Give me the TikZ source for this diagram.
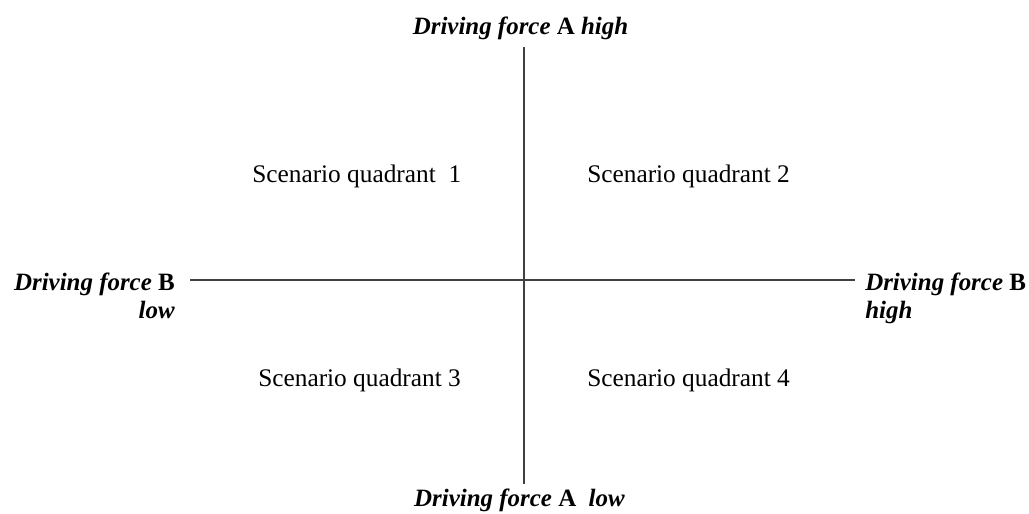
\documentclass[tikz,border=0pt]{standalone}
\usepackage{fontspec}
\setmainfont{Liberation Serif}
\usetikzlibrary{positioning}

\begin{document}
\begin{tikzpicture}[
  x=0.75pt, y=-0.75pt,
  axis/.style={draw=black!75, line width=1pt},
  force/.style={font=\fontsize{18.7}{21}\selectfont\bfseries\itshape, inner sep=0pt},
  quad/.style={font=\fontsize{19}{22}\selectfont, inner sep=0pt, anchor=base west},
]
\useasboundingbox (0,0) rectangle (1029,514);

% axis labels
\node[force, anchor=base] (ahigh) at (520.5,35) {Driving force \textup{A} high};
\node[force, anchor=base] (alow) at (519.5,506) {Driving force \textup{A}\ \ low};
\node[force, anchor=north east, align=right] (blow) at (175,272.5)
     {Driving force \textup{B}\\low};
\node[force, anchor=north west, align=left] (bhigh) at (865,272.5)
     {Driving force \textup{B}\\high};

% axes
\coordinate (north) at (524,47);
\coordinate (south) at (524,484);
\coordinate (west) at (190,280);
\coordinate (east) at (855,280);
\draw[axis] (north) -- (south);
\draw[axis] (west) -- (east);

% quadrants
\node[quad] (q1) at (252,182) {Scenario quadrant\ \ 1};
\node[quad] (q2) at (587,182) {Scenario quadrant 2};
\node[quad] (q3) at (258,386) {Scenario quadrant 3};
\node[quad] (q4) at (587,386) {Scenario quadrant 4};
\end{tikzpicture}
\end{document}
